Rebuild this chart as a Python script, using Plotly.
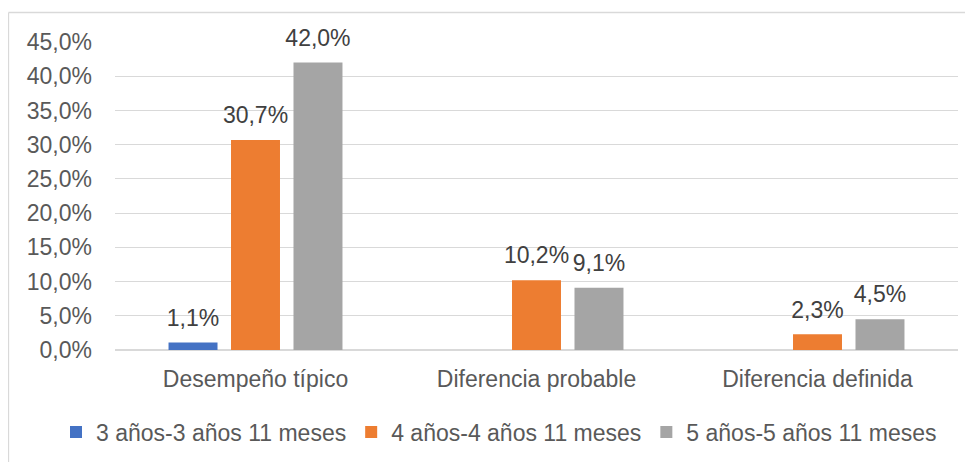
import plotly.graph_objects as go

categories = ["Desempeño típico", "Diferencia probable", "Diferencia definida"]
series_names = ["3 años-3 años 11 meses", "4 años-4 años 11 meses", "5 años-5 años 11 meses"]
serie_3 = [1.1, None, None]
serie_4 = [30.7, 10.2, 2.3]
serie_5 = [42.0, 9.1, 4.5]
y_ticks = [0, 5, 10, 15, 20, 25, 30, 35, 40, 45]

colors = ["#4472C4", "#ED7D31", "#A5A5A5"]
FONT = "Liberation Sans, Arial, sans-serif"
FS = 23
W, H = 973, 462
OFF = 8  # page body margin
# plot area in screen pixels: x 115..958, y 42..350
ML, MT = 115 - OFF, 42 - OFF
MR, MB = W - (958 - OFF), H - (350 - OFF)
PW, PH = W - ML - MR, H - MT - MB

def fmt(v):
    return f"{v:.1f}".replace(".", ",") + "%"

BARGAP = 0.333
fig = go.Figure()
all_series = [serie_3, serie_4, serie_5]
for i, (name, vals) in enumerate(zip(series_names, all_series)):
    fig.add_trace(go.Bar(
        x=categories, y=vals, name=name, marker_color=colors[i],
        marker_line_width=0, offsetgroup=f"g{i}",
    ))
for i, (name, vals) in enumerate(zip(series_names, all_series)):
    fig.add_trace(go.Scatter(
        x=categories, y=vals, mode="markers+text", showlegend=False,
        marker=dict(size=16, opacity=0), offsetgroup=f"g{i}",
        text=[None if v is None else fmt(v) for v in vals],
        textposition="top center", cliponaxis=False,
        textfont=dict(family=FONT, size=FS, color="#404040"),
        hoverinfo="skip",
    ))

def px_x(p):
    return (p - OFF - ML) / PW

def px_y(p):
    return (H - MB - (p - OFF)) / PH

fig.update_layout(
    width=W, height=H,
    margin=dict(l=ML, r=MR, t=MT, b=MB, autoexpand=False),
    paper_bgcolor="white", plot_bgcolor="white",
    barmode="group", bargap=BARGAP, bargroupgap=0.216,
    scattermode="group", scattergap=BARGAP,
    font=dict(family=FONT, size=FS, color="#595959"),
    showlegend=True,
    legend=dict(orientation="h", x=px_x(56), xanchor="left", y=px_y(432), yanchor="middle",
                font=dict(family=FONT, size=FS, color="#595959"), traceorder="normal",
                itemclick=False, bgcolor="rgba(0,0,0,0)"),
    xaxis=dict(showgrid=False, showline=False, ticks="", ticklabelstandoff=13,
               tickfont=dict(family=FONT, size=FS, color="#595959")),
    yaxis=dict(range=[0, 45], tickvals=y_ticks, ticktext=[fmt(v) for v in y_ticks],
               showgrid=True, gridcolor="#D9D9D9", gridwidth=1.3,
               zeroline=True, zerolinecolor="#D9D9D9", zerolinewidth=1.5,
               showline=False, ticks="", ticklabelstandoff=22,
               tickfont=dict(family=FONT, size=FS, color="#595959")),
    shapes=[
        dict(type="line", xref="paper", yref="paper", x0=px_x(8.5), x1=px_x(990), y0=px_y(12.5), y1=px_y(12.5),
             line=dict(color="#D9D9D9", width=1.3)),
        dict(type="line", xref="paper", yref="paper", x0=px_x(8.5), x1=px_x(8.5), y0=px_y(12.5), y1=px_y(480),
             line=dict(color="#D9D9D9", width=1.3)),
    ],
)

fig.write_html("out.html")
